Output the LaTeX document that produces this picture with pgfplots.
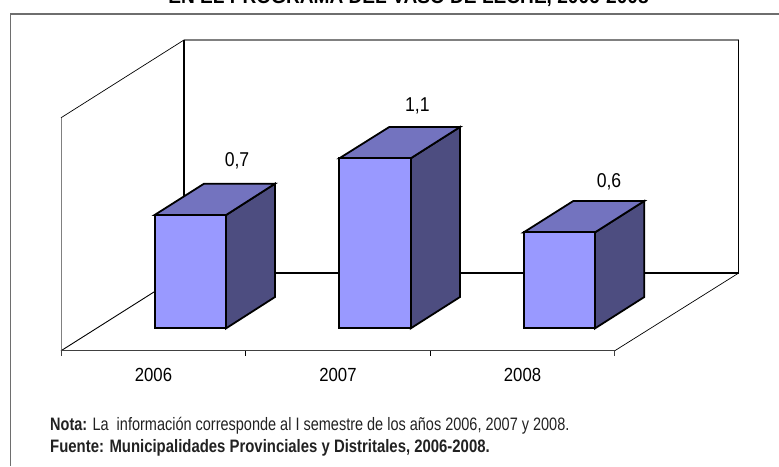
\documentclass[border=0pt]{standalone}
\usepackage{pgfplots}
\pgfplotsset{compat=1.18}
\usepackage{fontspec}
\setmainfont{Liberation Sans}
\newfontfamily\notef[FakeStretch=0.805]{Liberation Sans}
\newfontfamily\fuef[FakeStretch=0.828]{Liberation Sans}
\newfontfamily\labf[FakeStretch=0.88]{Liberation Sans}
\newfontfamily\titf[FakeStretch=0.955]{Liberation Sans}
\definecolor{barfront}{HTML}{9999FF}
\definecolor{bartop}{HTML}{7373BF}
\definecolor{barside}{HTML}{4D4D80}
\definecolor{frameg}{HTML}{6E6E6E}
\definecolor{wallg}{HTML}{808080}
\definecolor{txt}{HTML}{222222}
\begin{document}
\begin{tikzpicture}[x=1pt,y=1pt]
\path[use as bounding box,clip] (0,0) rectangle (779,466);
\begin{axis}[
  at={(0,0)},anchor=south west,
  scale only axis,width=779pt,height=466pt,
  xmin=0,xmax=779,ymin=-0.860,ymax=2.052,
  hide axis,clip=false,
  line join=miter
]
% outer frame
\addplot[frameg,line width=1.2pt] coordinates {(10.5,-0.860)(10.5,1.965)(779,1.965)};
% back wall
\addplot[wallg,line width=1.1pt] coordinates {(184,1.802)(738.7,1.802)};
\addplot[black,line width=0.7pt] coordinates {(738.7,1.802)(738.7,0.346)};
\addplot[black,line width=1.3pt] coordinates {(184,1.802)(184,0.346)(738.7,0.346)};
% side wall
\addplot[black,line width=0.7pt] coordinates {(61,1.316)(184,1.802)};
\addplot[wallg,line width=1.0pt] coordinates {(61,1.316)(61,-0.14)};
% floor
\addplot[black,line width=0.9pt] coordinates {(61,-0.14)(184,0.346)};
\addplot[black,line width=0.7pt] coordinates {(614.7,-0.14)(738.7,0.346)};
\addplot[black!75,line width=1.0pt] coordinates {(61,-0.14)(614.7,-0.14)};
% ticks
\addplot[black!75,line width=0.8pt] coordinates {(61,-0.14)(61,-0.173)};
\addplot[black,line width=0.8pt] coordinates {(245.7,-0.14)(245.7,-0.173)};
\addplot[black,line width=0.8pt] coordinates {(430.7,-0.14)(430.7,-0.173)};
\addplot[black!75,line width=0.8pt] coordinates {(614.7,-0.14)(614.7,-0.173)};
% bar sides and tops
\addplot[draw=black,fill=barside,line width=1.8pt] coordinates {(226,0)(275,0.196)(275,0.904)(226,0.708)} -- cycle;
\addplot[draw=black,fill=bartop,line width=1.8pt] coordinates {(154.5,0.708)(204,0.904)(275,0.904)(226,0.708)} -- cycle;
\addplot[draw=black,fill=barside,line width=1.8pt] coordinates {(410.7,0)(460,0.196)(460,1.2585)(410.7,1.0625)} -- cycle;
\addplot[draw=black,fill=bartop,line width=1.8pt] coordinates {(339.3,1.0625)(389.3,1.2585)(460,1.2585)(410.7,1.0625)} -- cycle;
\addplot[draw=black,fill=barside,line width=1.8pt] coordinates {(595,0)(644.3,0.196)(644.3,0.796)(595,0.6)} -- cycle;
\addplot[draw=black,fill=bartop,line width=1.8pt] coordinates {(523.7,0.6)(573.3,0.796)(644.3,0.796)(595,0.6)} -- cycle;
% bar fronts
\addplot[ybar,bar width=71.4pt,bar shift=0pt,draw=black,fill=barfront,line width=1.8pt]
  coordinates {(190.3,0.708)(375,1.0625)(559.4,0.6)};
% value labels
\node[text=black,font=\labf\fontsize{20}{22}\selectfont,inner sep=0pt,anchor=base] at (axis cs:237,1.011) {0,7};
\node[text=black,font=\labf\fontsize{20}{22}\selectfont,inner sep=0pt,anchor=base] at (axis cs:417.3,1.358) {1,1};
\node[text=black,font=\labf\fontsize{20}{22}\selectfont,inner sep=0pt,anchor=base] at (axis cs:609,0.883) {0,6};
% category labels
\node[text=black,font=\labf\fontsize{19}{22}\selectfont,inner sep=0pt,anchor=base] at (axis cs:153.5,-0.330) {2006};
\node[text=black,font=\labf\fontsize{19}{22}\selectfont,inner sep=0pt,anchor=base] at (axis cs:338,-0.330) {2007};
\node[text=black,font=\labf\fontsize{19}{22}\selectfont,inner sep=0pt,anchor=base] at (axis cs:522.5,-0.330) {2008};
% title
\node[text=black,font=\titf\bfseries\fontsize{20}{22}\selectfont,inner sep=0pt,anchor=base] at (axis cs:408.5,2.027) {EN EL PROGRAMA DEL VASO DE LECHE, 2006-2008};
% notes
\node[text=txt,font=\notef\fontsize{18}{20}\selectfont,inner sep=0pt,anchor=base west] at (axis cs:50,-0.640) {\textbf{Nota:} La\ \ información corresponde al I semestre de los años 2006, 2007 y 2008.};
\node[text=txt,font=\fuef\bfseries\fontsize{18}{20}\selectfont,inner sep=0pt,anchor=base west] at (axis cs:50,-0.775) {Fuente: Municipalidades Provinciales y Distritales, 2006-2008.};
\end{axis}
\end{tikzpicture}
\end{document}
